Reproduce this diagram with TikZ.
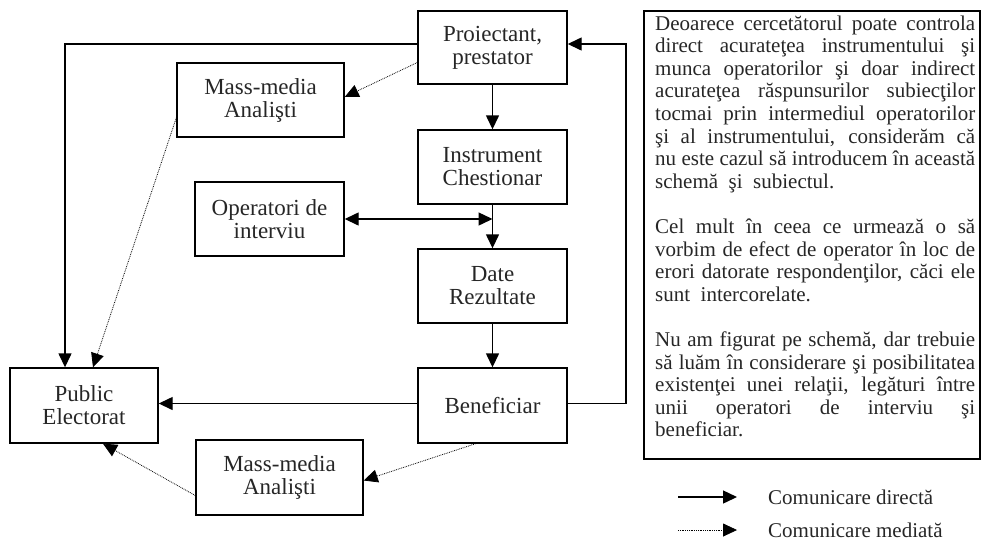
\documentclass[tikz,border=0pt]{standalone}
\usepackage{fontspec}
\usepackage{graphicx}
\setmainfont{Liberation Serif}
\usetikzlibrary{arrows.meta,calc}
\newcommand\jline[2]{\sbox0{#2}\ifdim\wd0>320pt\relax\resizebox{320pt}{\ht0}{#2}\else\makebox[320pt][#1]{#2}\fi}
\tikzset{
  box/.style={draw, line width=1.4pt, align=center, inner sep=0pt,
    font=\fontsize{23}{23}\selectfont, text=black!85},
  conn/.style={line width=1.4pt, -{Triangle[length=14pt,width=13pt]}},
  med/.style={line width=0.8pt, densely dotted, -{Triangle[length=14pt,width=13pt]}},
  txt/.style={font=\fontsize{21}{22.8}\selectfont, anchor=base west, inner sep=0pt, text=black!85},
}
\begin{document}
\begin{tikzpicture}[x=1pt,y=-1pt]
\useasboundingbox (0,0) rectangle (981,542);
% boxes
\node[box, minimum width=149pt, minimum height=73pt] (proj)   at (492.5,47.5) {Proiectant,\\prestator};
\node[box, minimum width=167pt, minimum height=74pt] (mm1)    at (260.5,100)  {Mass-media\\Analişti};
\node[box, minimum width=149pt, minimum height=74pt] (instr)  at (492.5,167)  {Instrument\\Chestionar};
\node[box, minimum width=149pt, minimum height=74pt] (oper)   at (269.5,219)  {Operatori de\\interviu};
\node[box, minimum width=149pt, minimum height=74pt] (date)   at (492.5,286)  {Date\\Rezultate};
\node[box, minimum width=149pt, minimum height=75pt] (benef)  at (492.5,405.5) {Beneficiar};
\node[box, minimum width=148pt, minimum height=75pt] (public) at (84,405.5)   {Public\\Electorat};
\node[box, minimum width=167pt, minimum height=75pt] (mm2)    at (279.5,477.5) {Mass-media\\Analişti};
% direct connectors
\draw[conn] ($(proj.west)+(0,-3.5)$) -| ($(public.north)+(-19,0)$);
\draw[conn] (proj.south) -- (instr.north);
\draw[conn] (instr.south) -- (date.north);
\coordinate (junc) at (date.north |- oper.east);
\draw[line width=1.4pt, {Triangle[length=14pt,width=13pt]}-{Triangle[length=14pt,width=13pt]}] (oper.east) -- (junc);
\draw[conn] (date.south) -- (benef.north);
\draw[conn] ($(benef.west)+(0,-2)$) -- ($(public.east)+(0,-2)$);
\coordinate (rc) at (626,44);
\coordinate (pe) at ($(proj.east)+(0,-3.5)$);
\coordinate (be) at ($(benef.east)+(0,-2)$);
\draw[conn] (be) -- (be -| rc) -- (rc |- pe) -- (pe);
% mediated connectors
\draw[med] ($(proj.west)+(0,15)$) -- ($(mm1.east)+(0,-3)$);
\draw[med] ($(mm1.south west)+(0,-20)$) -- ($(public.north)+(9,0)$);
\draw[med] ($(benef.south)+(-17,0)$) -- ($(mm2.east)+(0,3)$);
\draw[med] ($(mm2.west)+(0,18)$) -- ($(public.south)+(19,0)$);
% text box
\draw[line width=1.6pt] (644,11) rectangle (980,459);
\foreach \i/\s/\t in {
 0/s/{Deoarece cercetătorul poate controla},
 1/s/{direct acurateţea instrumentului şi},
 2/s/{munca operatorilor şi doar indirect},
 3/s/{acurateţea răspunsurilor subiecţilor},
 4/s/{tocmai prin intermediul operatorilor},
 5/s/{şi al instrumentului, considerăm că},
 6/s/{nu este cazul să introducem în această},
 7/l/{schemă\ \ şi\ \ subiectul.},
 9/s/{Cel mult în ceea ce urmează o să},
 10/s/{vorbim de efect de operator în loc de},
 11/s/{erori datorate respondenţilor, căci ele},
 12/l/{sunt\ \ intercorelate.},
 14/s/{Nu am figurat pe schemă, dar trebuie},
 15/s/{să luăm în considerare şi posibilitatea},
 16/s/{existenţei unei relaţii, legături între},
 17/s/{unii operatori de interviu şi},
 18/l/{beneficiar.}}
{\node[txt] (tl\i) at (655,{30+\i*22.6}) {\jline{\s}{\t}};}
% legend
\coordinate (l1s) at (678,497); \coordinate (l1e) at (737,497);
\coordinate (l2s) at (678,530); \coordinate (l2e) at (737,530);
\draw[conn] (l1s) -- (l1e);
\draw[med] (l2s) -- (l2e);
\node[txt] (leg1) at (768,504) {Comunicare directă};
\node[txt] (leg2) at (768,537) {Comunicare mediată};
\end{tikzpicture}
\end{document}
